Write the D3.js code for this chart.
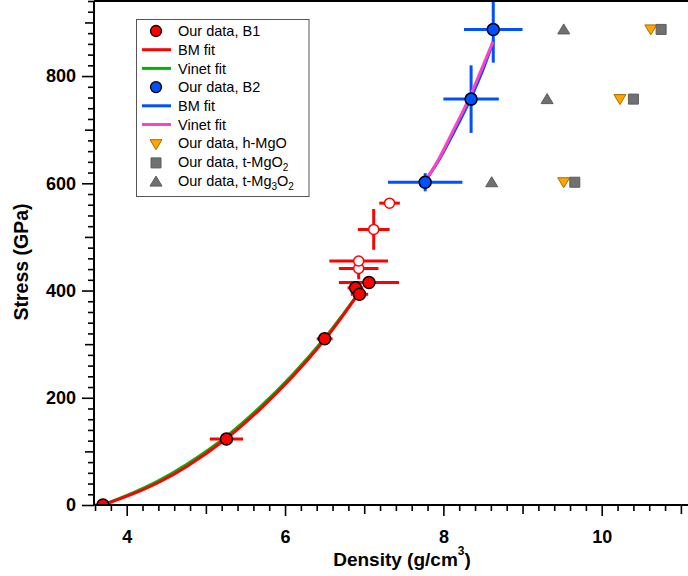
<!DOCTYPE html>
<html>
<head>
<meta charset="utf-8">
<script src="https://cdn.jsdelivr.net/npm/d3@7"></script>
<style>
  html, body { margin: 0; padding: 0; background: #fff; }
  svg { display: block; }
  text { font-family: "Liberation Sans", Arial, sans-serif; }
</style>
</head>
<body>
<svg id="chart" width="688" height="576"></svg>
<script>
// ---- data -------------------------------------------------------------
// B1 phase, measured points (filled markers)
const b1Density    = [3.70, 5.26, 6.50, 6.89, 6.94, 7.06];
const b1Stress     = [0, 123, 310, 405, 393, 415];
const b1DensityErr = [0.10, 0.21, 0.10, 0.10, 0.11, 0.38];
const b1StressErr  = [0, 0, 3, 8, 12, 10];

// B1 phase, points beyond the fit range (open markers)
const b1oDensity    = [6.93, 6.93, 7.12, 7.32];
const b1oStress     = [441, 455, 514, 563];
const b1oDensityErr = [0.25, 0.37, 0.20, 0.13];
const b1oStressErr  = [20, 6, 38, 0];

// B2 phase
const b2Density    = [7.77, 8.35, 8.63];
const b2Stress     = [602, 757, 887];
const b2DensityErr = [0.47, 0.35, 0.37];
const b2StressErr  = [17, 63, 62];

// other structures at the same stresses
const otherStress     = [602, 757, 887];
const hMgODensity     = [9.52, 10.23, 10.62];
const tMgO2Density    = [9.66, 10.40, 10.75];
const tMg3O2Density   = [8.61, 9.31, 9.52];

// equation-of-state fits, sampled along the curves
const b1BmDensity    = [3.70, 4.10, 4.40, 4.76, 5.26, 5.68, 6.10, 6.50, 6.74, 6.93];
const b1BmStress     = [0, 22, 42, 72, 124, 178, 240, 308, 355, 395];
const b1VinetDensity = [3.70, 4.10, 4.40, 4.76, 5.26, 5.68, 6.10, 6.50, 6.74, 6.93];
const b1VinetStress  = [0, 24, 45, 76, 128, 182, 244, 311, 357, 395];
const b2BmDensity    = [7.76, 7.95, 8.15, 8.35, 8.50, 8.63];
const b2BmStress     = [602, 645, 700, 760, 812, 865];
const b2VinetDensity = [7.76, 7.94, 8.13, 8.33, 8.48, 8.62];
const b2VinetStress  = [602, 645, 700, 760, 812, 862];

const xMajorTicks = [4, 6, 8, 10];
const xMidTicks   = [5, 7, 9, 11];
const yMajorTicks = [0, 200, 400, 600, 800];
const yMidTicks   = [100, 300, 500, 700, 900];

// ---- layout -----------------------------------------------------------
const svg = d3.select("#chart");
const plotLeft = 94, plotRight = 690, plotTop = 1, plotBottom = 505;

const x = d3.scaleLinear().domain([3.587, 11.115]).range([plotLeft, plotRight]);
const y = d3.scaleLinear().domain([0, 940]).range([plotBottom, plotTop]);

const zip = (xs, ys) => xs.map((v, i) => [v, ys[i]]);

// ---- axes -------------------------------------------------------------
const xMinor = d3.range(36, 111, 2).map(v => v / 10)
  .filter(v => Math.abs(v - Math.round(v)) > 1e-6);
const yMinor = d3.range(0, 941, 20).filter(v => v % 100 !== 0);

function styleAxis(g) {
  g.select(".domain").remove();
  g.selectAll(".tick line").attr("stroke", "#000").attr("stroke-width", 1.6);
  g.selectAll("text").attr("fill", "#000")
    .style("font-size", "18px").style("font-weight", "bold")
    .style("font-family", '"Liberation Sans", Arial, sans-serif');
}

const gx = svg.append("g").attr("transform", `translate(0,${plotBottom})`);
gx.append("g").call(d3.axisBottom(x).tickValues(xMinor).tickSize(6).tickFormat("")).call(styleAxis);
gx.append("g").call(d3.axisBottom(x).tickValues(xMidTicks).tickSize(9).tickFormat("")).call(styleAxis);
gx.append("g").call(d3.axisBottom(x).tickValues(xMajorTicks).tickSize(11).tickPadding(14)
  .tickFormat(d3.format("d"))).call(styleAxis);

const gy = svg.append("g").attr("transform", `translate(${plotLeft},0)`);
gy.append("g").call(d3.axisLeft(y).tickValues(yMinor).tickSize(6).tickFormat("")).call(styleAxis);
gy.append("g").call(d3.axisLeft(y).tickValues(yMidTicks).tickSize(9).tickFormat("")).call(styleAxis);
gy.append("g").call(d3.axisLeft(y).tickValues(yMajorTicks).tickSize(12).tickPadding(6)
  .tickFormat(d3.format("d"))).call(styleAxis);

// axis titles
const xTitle = svg.append("text")
  .attr("x", 402).attr("y", 566)
  .attr("text-anchor", "middle")
  .style("font-size", "19px").style("font-weight", "bold");
xTitle.append("tspan").text("Density (g/cm");
xTitle.append("tspan").attr("dy", -11).style("font-size", "12px").text("3");
xTitle.append("tspan").attr("dy", 11).text(")");

svg.append("text")
  .attr("transform", "translate(28,262) rotate(-90)")
  .attr("text-anchor", "middle")
  .style("font-size", "19.5px").style("font-weight", "bold")
  .text("Stress (GPa)");

// ---- plot contents ----------------------------------------------------
svg.append("clipPath").attr("id", "plotClip")
  .append("rect").attr("x", plotLeft).attr("y", plotTop)
  .attr("width", plotRight - plotLeft).attr("height", plotBottom - plotTop);
const plot = svg.append("g").attr("clip-path", "url(#plotClip)");

const line = d3.line().x(d => x(d[0])).y(d => y(d[1])).curve(d3.curveCatmullRom.alpha(0.5));

function fitLine(xs, ys, color) {
  plot.append("path").datum(zip(xs, ys))
    .attr("d", line).attr("fill", "none")
    .attr("stroke", color).attr("stroke-width", 3)
    .attr("stroke-linecap", "round");
}

function errorBars(xs, ys, xe, ye, color) {
  const g = plot.append("g").attr("stroke", color).attr("stroke-width", 3);
  xs.forEach((v, i) => {
    if (xe[i] > 0) g.append("line")
      .attr("x1", x(v - xe[i])).attr("x2", x(v + xe[i]))
      .attr("y1", y(ys[i])).attr("y2", y(ys[i]));
    if (ye[i] > 0) g.append("line")
      .attr("x1", x(v)).attr("x2", x(v))
      .attr("y1", y(ys[i] - ye[i])).attr("y2", y(ys[i] + ye[i]));
  });
}

function circles(xs, ys, fill, stroke, width, r) {
  plot.append("g").selectAll("circle").data(zip(xs, ys)).join("circle")
    .attr("cx", d => x(d[0])).attr("cy", d => y(d[1])).attr("r", r)
    .attr("fill", fill).attr("stroke", stroke).attr("stroke-width", width);
}

// marker outlines
const downTri = "M-6,-4.5L6,-4.5L0,5.5Z";
const upTri   = "M0,-5.5L6,4.5L-6,4.5Z";
const square  = "M-5,-5H5V5H-5Z";

function markers(xs, ys, path, fill, stroke) {
  plot.append("g").selectAll("path").data(zip(xs, ys)).join("path")
    .attr("transform", d => `translate(${x(d[0])},${y(d[1])})`)
    .attr("d", path).attr("fill", fill).attr("stroke", stroke).attr("stroke-width", 1);
}

// B1
fitLine(b1VinetDensity, b1VinetStress, "#00b400");
fitLine(b1BmDensity, b1BmStress, "#ff0000");
errorBars(b1oDensity, b1oStress, b1oDensityErr, b1oStressErr, "#ff0000");
errorBars(b1Density, b1Stress, b1DensityErr, b1StressErr, "#ff0000");
circles(b1oDensity, b1oStress, "#ffffff", "#ff0000", 1.5, 5);
circles(b1Density, b1Stress, "#ff0000", "#000000", 1.5, 6);

// B2
errorBars(b2Density, b2Stress, b2DensityErr, b2StressErr, "#0050ff");
fitLine(b2BmDensity, b2BmStress, "#0050ff");
fitLine(b2VinetDensity, b2VinetStress, "#ff40c8");
circles(b2Density, b2Stress, "#0050ff", "#000000", 1.5, 6);

// other structures
markers(hMgODensity, otherStress, downTri, "#ffa500", "#a86c00");
markers(tMgO2Density, otherStress, square, "#707070", "#5c5c5c");
markers(tMg3O2Density, otherStress, upTri, "#707070", "#5c5c5c");

// axis frame
svg.append("line").attr("x1", plotLeft).attr("x2", plotRight).attr("y1", plotBottom).attr("y2", plotBottom)
  .attr("stroke", "#000").attr("stroke-width", 2);
svg.append("line").attr("x1", plotLeft).attr("x2", plotLeft).attr("y1", plotTop).attr("y2", plotBottom)
  .attr("stroke", "#000").attr("stroke-width", 2);
svg.append("line").attr("x1", plotLeft).attr("x2", plotRight).attr("y1", plotTop).attr("y2", plotTop)
  .attr("stroke", "#000").attr("stroke-width", 2);

// ---- legend -----------------------------------------------------------
const legendItems = [
  { kind: "circle", fill: "#ff0000", label: ["Our data, B1"] },
  { kind: "line", color: "#ff0000", label: ["BM fit"] },
  { kind: "line", color: "#00b400", label: ["Vinet fit"] },
  { kind: "circle", fill: "#0050ff", label: ["Our data, B2"] },
  { kind: "line", color: "#0050ff", label: ["BM fit"] },
  { kind: "line", color: "#ff40c8", label: ["Vinet fit"] },
  { kind: "path", d: downTri, fill: "#ffa500", stroke: "#a86c00", label: ["Our data, h-MgO"] },
  { kind: "path", d: square, fill: "#707070", stroke: "#5c5c5c", label: ["Our data, t-MgO", "2"] },
  { kind: "path", d: upTri, fill: "#707070", stroke: "#5c5c5c", label: ["Our data, t-Mg", "3", "O", "2"] }
];

const lg = svg.append("g");
lg.append("rect").attr("x", 136.5).attr("y", 19.5).attr("width", 172.5).attr("height", 177)
  .attr("fill", "#fff").attr("stroke", "#555").attr("stroke-width", 1);

legendItems.forEach((it, i) => {
  const cy = 31 + i * 18.7;
  if (it.kind === "circle") {
    lg.append("circle").attr("cx", 156).attr("cy", cy).attr("r", 5.5)
      .attr("fill", it.fill).attr("stroke", "#000").attr("stroke-width", 1.3);
  } else if (it.kind === "line") {
    lg.append("line").attr("x1", 142).attr("x2", 171).attr("y1", cy).attr("y2", cy)
      .attr("stroke", it.color).attr("stroke-width", 3);
  } else {
    lg.append("path").attr("transform", `translate(156,${cy + 1})`).attr("d", it.d)
      .attr("fill", it.fill).attr("stroke", it.stroke).attr("stroke-width", 1);
  }
  const t = lg.append("text").attr("x", 178).attr("y", cy + 5.2).style("font-size", "14.5px");
  it.label.forEach((s, j) => {
    const sub = j % 2 === 1;
    t.append("tspan")
      .attr("dy", sub ? 4 : (j > 0 ? -4 : 0))
      .style("font-size", sub ? "10px" : "14.5px")
      .text(s);
  });
});
</script>
</body>
</html>
